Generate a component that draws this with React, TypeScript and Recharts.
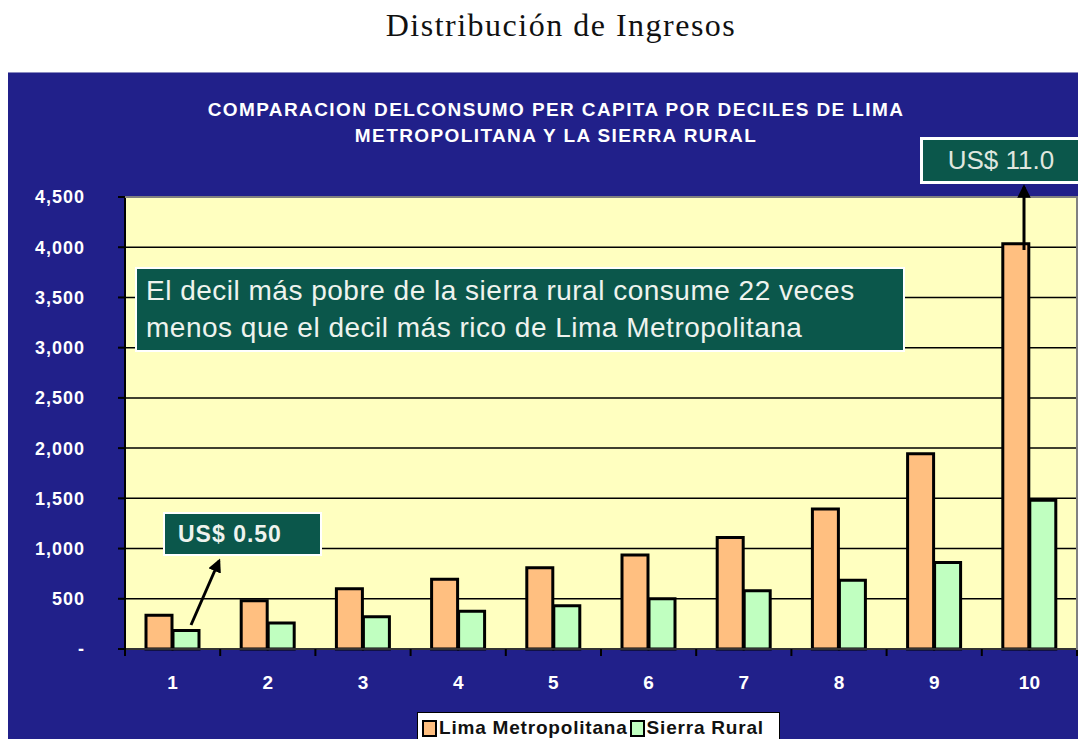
import React from 'react';
import { BarChart, Bar, XAxis, YAxis, CartesianGrid } from 'recharts';

const deciles = ['1', '2', '3', '4', '5', '6', '7', '8', '9', '10'];
const limaMetropolitana = [335, 480, 600, 695, 810, 935, 1110, 1395, 1945, 4035];
const sierraRural = [185, 260, 320, 375, 430, 500, 580, 685, 860, 1480];
const yTicks = [0, 500, 1000, 1500, 2000, 2500, 3000, 3500, 4000, 4500];

const seriesInfo = [
  { key: 'lima', name: 'Lima Metropolitana', color: '#ffbf80' },
  { key: 'sierra', name: 'Sierra Rural', color: '#c0ffc0' },
];

const data = deciles.map((d, i) => ({ decil: d, lima: limaMetropolitana[i], sierra: sierraRural[i] }));

const ARIAL = 'Arial, "Liberation Sans", Helvetica, sans-serif';
const BOX_GREEN = '#0b574b';

const XTick = (props: any) => {
  const { x, y, payload, index, visibleTicksCount } = props;
  const half = 952 / deciles.length / 2;
  return (
    <g>
      <line x1={x - half} x2={x - half} y1={y} y2={y + 7} stroke="#000" strokeWidth={2} />
      {index === visibleTicksCount - 1 && (
        <line x1={x + half} x2={x + half} y1={y} y2={y + 7} stroke="#000" strokeWidth={2} />
      )}
      <text x={x} y={y + 40} textAnchor="middle" fill="#fff" fontWeight="bold" fontSize={19} fontFamily={ARIAL}>
        {payload.value}
      </text>
    </g>
  );
};

const App: React.FC = () => {
  return (
    <div style={{ position: 'relative', width: 1086, height: 747, margin: -8, background: '#fff', overflow: 'hidden', fontFamily: ARIAL }}>
      <div style={{ position: 'absolute', left: 0, width: 1122, top: 7, textAlign: 'center', fontFamily: '"Times New Roman", "Liberation Serif", serif', fontSize: 32, letterSpacing: 1.5, color: '#111' }}>
        Distribución de Ingresos
      </div>

      {/* blue panel */}
      <div style={{ position: 'absolute', left: 7, top: 72, right: 0, bottom: 0, background: '#21208a', borderTop: '1px solid #8a8ac0', borderLeft: '1px solid #8a8ac0' }} />

      <div style={{ position: 'absolute', left: 0, width: 1112, top: 97, textAlign: 'center', color: '#fff', fontWeight: 'bold', fontSize: 19, letterSpacing: 1.4, lineHeight: '26px' }}>
        COMPARACION DELCONSUMO PER CAPITA POR DECILES DE LIMA<br />METROPOLITANA Y LA SIERRA RURAL
      </div>

      <div style={{ position: 'absolute', left: 0, top: 0 }}>
        <BarChart width={1086} height={747} data={data} margin={{ top: 197, right: 9, bottom: 58, left: 25 }} barGap={1} barSize={26}>
          <CartesianGrid vertical={false} stroke="#000" strokeWidth={1.5} fill="#ffffc0" fillOpacity={1} />
          <XAxis
            dataKey="decil"
            height={40}
            axisLine={{ stroke: '#333', strokeWidth: 2 }}
            tickLine={false}
            tickSize={0}
            tickMargin={0}
            interval={0}
            tick={<XTick />}
          />
          <YAxis
            width={100}
            domain={[0, 4500]}
            ticks={yTicks}
            interval={0}
            axisLine={{ stroke: '#000', strokeWidth: 2 }}
            tickLine={{ stroke: '#000', strokeWidth: 2 }}
            tickSize={7}
            tickMargin={33}
            tickFormatter={(v: number) => (v === 0 ? '-' : v.toLocaleString('en-US'))}
            tick={{ fill: '#fff', fontWeight: 'bold', fontSize: 18, fontFamily: ARIAL, letterSpacing: 1 }}
          />
          {seriesInfo.map(s => (
            <Bar key={s.key} dataKey={s.key} name={s.name} fill={s.color} stroke="#000" strokeWidth={3} isAnimationActive={false} />
          ))}
        </BarChart>
      </div>

      {/* plot border */}
      <div style={{ position: 'absolute', left: 125, top: 196, width: 951, height: 452, borderTop: '2px solid #808080', borderRight: '2px solid #808080', pointerEvents: 'none' }} />

      {/* annotation boxes */}
      <div style={{ position: 'absolute', left: 135, top: 267, width: 770, height: 85, boxSizing: 'border-box', background: BOX_GREEN, border: '2px solid #fff', color: '#eef3ee', fontSize: 28, letterSpacing: 0.5, lineHeight: '37px', padding: '3px 0 0 9px', whiteSpace: 'nowrap' }}>
        El decil más pobre de la sierra rural consume 22 veces<br />menos que el decil más rico de Lima Metropolitana
      </div>
      <div style={{ position: 'absolute', left: 163, top: 512, width: 159, height: 44, boxSizing: 'border-box', background: BOX_GREEN, border: '2px solid #fff', color: '#eef3ee', fontSize: 23, letterSpacing: 1, fontWeight: 'bold', lineHeight: '40px', paddingLeft: 13 }}>
        US$ 0.50
      </div>
      <div style={{ position: 'absolute', left: 920, top: 137, width: 162, height: 47, boxSizing: 'border-box', background: BOX_GREEN, border: '3px solid #fff', color: '#dfe6df', fontSize: 26, lineHeight: '41px', textAlign: 'center' }}>
        US$ 11.0
      </div>

      {/* arrows */}
      <svg style={{ position: 'absolute', left: 0, top: 0, pointerEvents: 'none' }} width={1086} height={747}>
        <defs>
          <marker id="head" viewBox="0 0 10 10" refX="8" refY="5" markerWidth="4.5" markerHeight="4.5" orient="auto">
            <path d="M0,0 L10,5 L0,10 z" fill="#000" />
          </marker>
        </defs>
        <line x1={191} y1={625} x2={219} y2={561} stroke="#000" strokeWidth={3} markerEnd="url(#head)" />
        <line x1={1024} y1={250} x2={1024} y2={187} stroke="#000" strokeWidth={3} markerEnd="url(#head)" />
      </svg>

      {/* legend */}
      <div style={{ position: 'absolute', left: 417, top: 712, width: 363, height: 32, boxSizing: 'border-box', background: '#fff', border: '1.5px solid #000', display: 'flex', alignItems: 'center', paddingLeft: 4, gap: 2, whiteSpace: 'nowrap' }}>
        {seriesInfo.map(s => (
          <div key={s.key} style={{ display: 'flex', alignItems: 'center' }}>
            <span style={{ display: 'inline-block', width: 11, height: 13, background: s.color, border: '2.5px solid #000', marginRight: 2 }} />
            <span style={{ fontSize: 19, letterSpacing: 0.8, fontWeight: 'bold', color: '#111' }}>{s.name}</span>
          </div>
        ))}
      </div>
    </div>
  );
};

export default App;
